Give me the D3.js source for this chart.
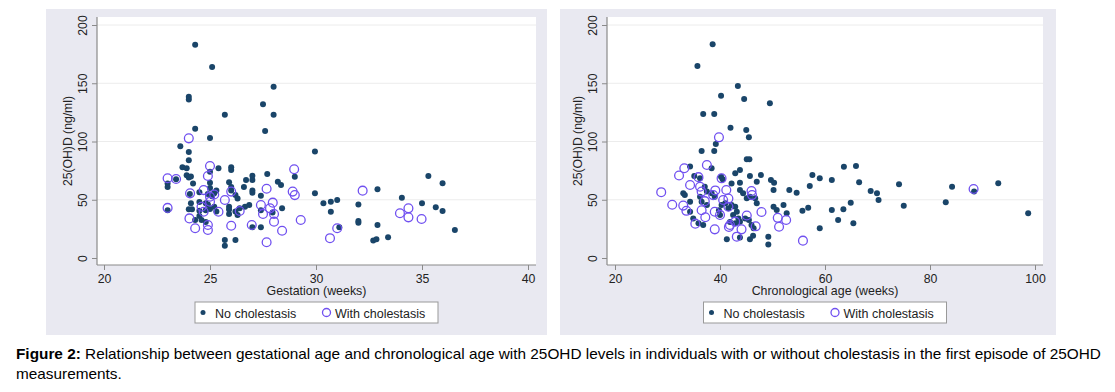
<!DOCTYPE html>
<html><head><meta charset="utf-8">
<script src="https://cdn.jsdelivr.net/npm/d3@7/dist/d3.min.js"></script>
<style>
html,body{margin:0;padding:0;background:#fff;}
svg text{font-family:"Liberation Sans",Arial,sans-serif;}
</style></head>
<body><svg id="c" width="1115" height="392"></svg>
<script>
// ---- data ----
const yTicks = [0, 50, 100, 150, 200];
const gestTicks = [20, 25, 30, 35, 40];
const ageTicks = [20, 40, 60, 80, 100];
const legendLabels = ["No cholestasis", "With cholestasis"];
const xTitles = ["Gestation (weeks)", "Chronological age (weeks)"];
const yTitle = "25(OH)D (ng/ml)";
const captionBold = "Figure 2:";
const captionLine1 = " Relationship between gestational age and chronological age with 25OHD levels in individuals with or without cholestasis in the first episode of 25OHD";
const captionLine2 = "measurements.";

// gestation (weeks), 25OHD — no cholestasis
const gestNoChol = [
[24.3,183],[25.1,164],[24.0,138.5],[24.0,136],[25.7,123],[24.3,111],[25.0,103],[23.6,96],[24.0,91],[24.0,84],
[23.7,78],[23.9,77],[25.4,77],[26.0,78],[26.0,75.5],[27.7,72],[25.0,74],[23.9,71],[24.1,70],[24.0,69],
[23.0,64],[23.0,61],[23.4,67.5],[24.2,64],[25.0,64.5],[25.0,60],[25.9,65],[26.0,61],[26.0,58],[26.6,61],
[26.7,67],[27.0,70.5],[27.0,67],[27.0,58],[27.0,56],[28.2,65.5],[28.35,62.7],[29.0,69.8],[29.95,55.5],[27.4,53.5],
[25.3,58],[25.2,55.5],[24.9,55],[25.1,53],[26.2,54],[26.3,51],[24.5,48],[24.1,47],[24.8,47],[24.9,46],
[26.85,45.5],[26.65,44],[26.4,42.6],[24.0,41.8],[24.15,41.8],[24.5,40.5],[24.8,41],[25.0,42],[25.2,44],[25.3,40],
[25.9,44],[25.9,41.7],[25.9,37.8],[26.2,40],[26.3,37],[27.4,41],[27.95,39],[28.4,42.6],[23.0,41],[24.3,32.6],
[24.6,32.6],[24.5,36],[24.8,31],[27.0,26.3],[27.4,26.3],[25.7,15.5],[25.7,10.5],[26.2,15.5],[31.1,26.3],[27.6,109],
[28.0,147],[27.5,132],[28.0,123],[29.95,91.5],[30.35,47],[30.7,48.3],[31.0,49.8],[30.7,39.7],[32.0,46],[32.0,31.8],
[32.0,30.3],[32.9,59],[32.9,28.3],[32.7,15],[32.85,16],[33.4,17.8],[34.05,51.8],[35.0,47],[35.3,70.4],[35.97,64.1],
[35.65,43.5],[35.97,40.3],[36.55,24],[24.05,55],[24.5,56.5]
];
// gestation (weeks), 25OHD — with cholestasis
const gestWithChol = [
[24.0,102.7],[23.0,68.5],[23.4,67.8],[25.0,79],[24.9,70.4],[28.97,76.2],[26.0,57],[27.67,59.4],[28.9,57],[29.0,54],
[24.06,55.5],[24.7,58.3],[25.0,52.6],[25.0,48.3],[25.7,49.8],[24.6,44],[24.7,39.7],[25.4,39.7],[26.4,40.3],[27.4,45.5],
[27.96,47.5],[27.83,42.6],[28.02,37.8],[27.5,37.8],[28.02,31.2],[29.28,32.6],[24.03,34],[24.3,25.5],[24.9,28.3],[24.9,24],
[26.0,27.7],[26.97,28.3],[28.4,23.4],[27.67,13.5],[30.66,17],[31.0,25.5],[23.0,43],[32.2,57.8],[33.96,38.4],[34.36,42.6],
[34.36,34.9],[34.98,33.5],[25.2,54.5]
];
// chronological age (weeks), 25OHD — no cholestasis
const ageNoChol = [
[38.6,183.4],[35.7,164.8],[43.4,147.6],[40.2,139.3],[44.6,136.5],[49.5,132.8],[36.8,123.6],[38.9,123.6],[42.0,111.8],[45.0,109.9],
[45.5,103.6],[39.2,97.9],[36.5,91.8],[38.9,91.8],[45.1,84.7],[45.6,84.7],[34.3,78.6],[38.4,77],[40.2,69.8],[40.5,67.6],
[42.9,72.7],[43.8,75.5],[42.2,64],[43.8,64.6],[45.7,70.4],[47.8,71.2],[47.0,65.5],[49.7,67],[50.3,64.6],[35.1,70.4],
[36.2,68.4],[37.1,61.2],[37.5,57],[33.0,55.5],[33.3,54],[34.3,48.3],[43.8,58.4],[44.4,55.5],[45.1,51.2],[45.7,52.6],
[46.7,51.2],[50.2,58.4],[53.2,58.4],[54.6,56],[57.6,71.2],[59.0,68.4],[61.3,67],[57.1,61.8],[50.2,44],[50.8,41.2],
[52.1,45.5],[52.7,38.4],[55.7,40.6],[56.8,43.2],[61.3,41.2],[62.5,32.6],[59.0,25.5],[49.2,18.3],[49.2,11.5],[41.3,16],
[43.8,17.5],[45.7,16],[46.3,19],[34.3,39.7],[34.9,34],[35.9,29.8],[36.8,28.3],[40.3,45.5],[41.0,47],[41.6,42.6],
[42.2,45.5],[42.9,44],[43.2,39.7],[42.5,37],[43.5,34],[41.9,31],[42.9,29.8],[43.8,31.2],[44.8,34],[45.5,32.6],
[46.0,28.3],[46.4,25.5],[39.8,41],[40.0,37],[38.4,55.5],[39.0,52.6],[36.2,52.6],[36.5,48.3],[37.5,45.5],[63.6,78.4],
[65.9,79],[66.5,65],[68.7,57.5],[69.9,55.5],[70.2,49.8],[74.1,63.2],[64.9,47.5],[63.5,41.8],[65.4,29.8],[75.0,44.9],
[83.0,47.8],[84.2,61.2],[88.4,57],[93.0,64.1],[98.7,38.4],[47.0,47]
];
// chronological age (weeks), 25OHD — with cholestasis
const ageWithChol = [
[28.8,56.5],[30.9,45.7],[32.2,70.8],[33.2,77],[37.5,79.8],[35.9,69.4],[34.3,62.7],[33.0,45],[33.6,40.5],[36.2,61.2],
[36.5,57],[39.1,58],[38.7,54],[41.2,58.4],[40.3,68.4],[36.5,41],[37.1,48.8],[35.3,29.5],[37.2,35],[39.0,24.6],
[39.0,39.7],[40.0,37],[40.6,49.8],[41.6,51],[41.9,28.3],[42.9,31.2],[41.7,26.7],[43.2,18.3],[44.1,24.6],[45.1,36.5],
[46.0,57.5],[46.1,54],[47.9,39.5],[46.8,27.2],[51.0,34.5],[51.25,26.8],[52.6,32.6],[55.8,14.9],[39.8,103.6],[88.3,59.2],
[41.6,44]
];

// ---- drawing ----
const svg = d3.select("#c");
const navy = "#1a4569", purple = "#7050f0", bg = "#e9e9f1", axisCol = "#8a8a8a", txt = "#222";

const panels = [
  {bg:[46,547], plot:[97,536], xDom:[20,40], xRange:[104,528], ticks:gestTicks, title:xTitles[0], a:gestNoChol, b:gestWithChol},
  {bg:[560,1056], plot:[607,1043], xDom:[20,100], xRange:[615,1035], ticks:ageTicks, title:xTitles[1], a:ageNoChol, b:ageWithChol}
];
const plotTop = 17, plotBottom = 265;
const y = d3.scaleLinear().domain([0,200]).range([258,25]);

panels.forEach(p => {
  const x = d3.scaleLinear().domain(p.xDom).range(p.xRange);
  const g = svg.append("g");
  g.append("rect").attr("x",p.bg[0]).attr("y",9).attr("width",p.bg[1]-p.bg[0]).attr("height",326).attr("fill",bg);
  g.append("rect").attr("x",p.plot[0]).attr("y",plotTop).attr("width",p.plot[1]-p.plot[0]).attr("height",plotBottom-plotTop).attr("fill","#fff");
  // gridlines
  g.selectAll(".grid").data(yTicks.filter(d=>d>0)).join("line")
    .attr("x1",p.plot[0]).attr("x2",p.plot[1]).attr("y1",d=>y(d)).attr("y2",d=>y(d))
    .attr("stroke","#ececec").attr("stroke-width",1);
  // y axis
  const ya = g.append("g").attr("transform",`translate(${p.plot[0]},0)`)
    .call(d3.axisLeft(y).tickValues(yTicks).tickSize(5).tickSizeOuter(0));
  ya.select(".domain").remove();
  ya.selectAll(".tick line").attr("stroke",axisCol);
  ya.selectAll(".tick text").attr("x",null).attr("dy",null)
    .attr("transform","translate(-10,0) rotate(-90)").attr("text-anchor","middle")
    .attr("fill",txt).style("font-size","12.3px").style("font-family","'Liberation Sans',Arial,sans-serif");
  // x axis
  const xa = g.append("g").attr("transform",`translate(0,${plotBottom})`)
    .call(d3.axisBottom(x).tickValues(p.ticks).tickSize(5).tickSizeOuter(0).tickPadding(4));
  xa.select(".domain").remove();
  xa.selectAll(".tick line").attr("stroke",axisCol);
  xa.selectAll(".tick text").attr("fill",txt).style("font-size","12.3px").style("font-family","'Liberation Sans',Arial,sans-serif");
  // axis lines
  g.append("line").attr("x1",p.plot[0]).attr("x2",p.plot[0]).attr("y1",plotTop).attr("y2",plotBottom).attr("stroke",axisCol).attr("stroke-width",1.2);
  g.append("line").attr("x1",p.plot[0]).attr("x2",p.plot[1]).attr("y1",plotBottom).attr("y2",plotBottom).attr("stroke",axisCol).attr("stroke-width",1.2);
  // titles
  const cx = (p.plot[0]+p.plot[1])/2;
  g.append("text").attr("x",cx).attr("y",295).attr("text-anchor","middle").attr("fill",txt).style("font-size","12.4px").text(p.title);
  g.append("text").attr("transform",`translate(${p.plot[0]-25},${(plotTop+plotBottom)/2}) rotate(-90)`)
    .attr("text-anchor","middle").attr("fill",txt).style("font-size","12.2px").text(yTitle);
  // points
  g.selectAll(".a").data(p.a).join("circle").attr("cx",d=>x(d[0])).attr("cy",d=>y(d[1])).attr("r",3).attr("fill",navy);
  g.selectAll(".b").data(p.b).join("circle").attr("cx",d=>x(d[0])).attr("cy",d=>y(d[1])).attr("r",4.4)
    .attr("fill","none").attr("stroke",purple).attr("stroke-width",1.3);
  // legend
  const lg = g.append("g").attr("transform",`translate(${cx-121.5},302)`);
  lg.append("rect").attr("x",0).attr("y",0).attr("width",243).attr("height",21).attr("fill","#fff").attr("stroke","#999").attr("stroke-width",1);
  lg.append("circle").attr("cx",8).attr("cy",10.5).attr("r",2.5).attr("fill",navy);
  lg.append("text").attr("x",20).attr("y",15.5).attr("fill",txt).style("font-size","12.5px").text(legendLabels[0]);
  lg.append("circle").attr("cx",131.5).attr("cy",10.5).attr("r",4).attr("fill","none").attr("stroke",purple).attr("stroke-width",1.3);
  lg.append("text").attr("x",140).attr("y",15.5).attr("fill",txt).style("font-size","12.5px").text(legendLabels[1]);
});

// caption
const cap = svg.append("text").attr("x",16).attr("y",359).attr("fill","#000").style("font-size","15.35px");
cap.append("tspan").style("font-weight","bold").text(captionBold);
cap.append("tspan").text(captionLine1);
svg.append("text").attr("x",16).attr("y",379).attr("fill","#000").style("font-size","15.35px").text(captionLine2);
</script></body></html>
